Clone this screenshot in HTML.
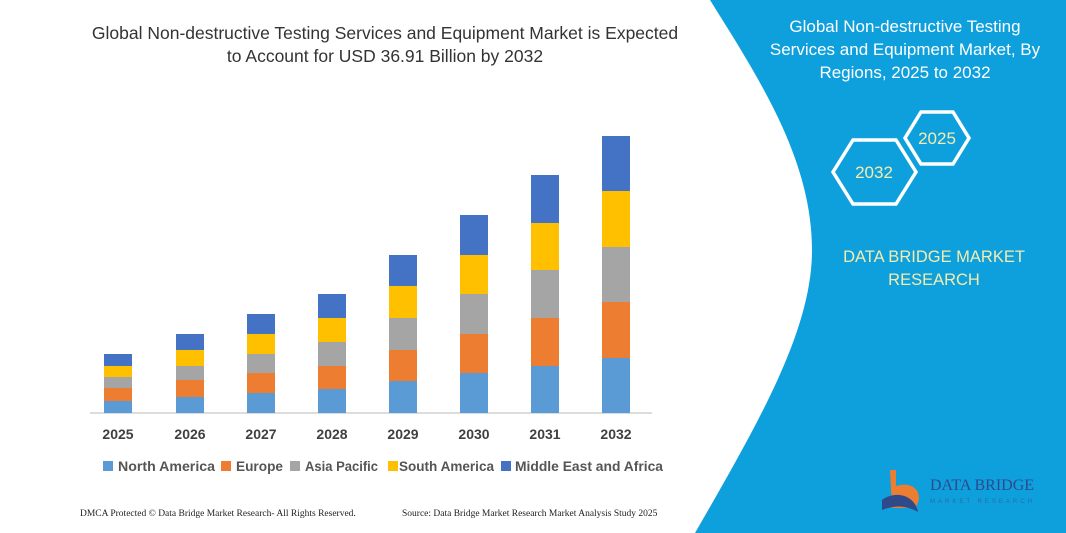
<!DOCTYPE html>
<html><head><meta charset="utf-8"><style>
html,body{margin:0;padding:0;}
body{width:1066px;height:533px;position:relative;overflow:hidden;background:#fff;font-family:"Liberation Sans",sans-serif;}
.t{position:absolute;white-space:nowrap;}
</style></head><body>
<svg width="1066" height="533" style="position:absolute;left:0;top:0">
<path d="M710,0 L1066,0 L1066,533 L695,533 C760,420 812,330 812,250 C812,160 760,80 710,0 Z" fill="#0ea0dc"/>
<line x1="90" y1="413" x2="652" y2="413" stroke="#d0d0d0" stroke-width="1.5"/>
<g>
<rect x="104" y="354" width="28" height="12" fill="#4472c4"/><rect x="104" y="366" width="28" height="11" fill="#ffc000"/><rect x="104" y="377" width="28" height="11" fill="#a5a5a5"/><rect x="104" y="388" width="28" height="13" fill="#ed7d31"/><rect x="104" y="401" width="28" height="12" fill="#5b9bd5"/>
<rect x="176" y="334" width="28" height="16" fill="#4472c4"/><rect x="176" y="350" width="28" height="16" fill="#ffc000"/><rect x="176" y="366" width="28" height="14" fill="#a5a5a5"/><rect x="176" y="380" width="28" height="17" fill="#ed7d31"/><rect x="176" y="397" width="28" height="16" fill="#5b9bd5"/>
<rect x="247" y="314" width="28" height="20" fill="#4472c4"/><rect x="247" y="334" width="28" height="20" fill="#ffc000"/><rect x="247" y="354" width="28" height="19" fill="#a5a5a5"/><rect x="247" y="373" width="28" height="20" fill="#ed7d31"/><rect x="247" y="393" width="28" height="20" fill="#5b9bd5"/>
<rect x="318" y="294" width="28" height="24" fill="#4472c4"/><rect x="318" y="318" width="28" height="24" fill="#ffc000"/><rect x="318" y="342" width="28" height="24" fill="#a5a5a5"/><rect x="318" y="366" width="28" height="23" fill="#ed7d31"/><rect x="318" y="389" width="28" height="24" fill="#5b9bd5"/>
<rect x="389" y="255" width="28" height="31" fill="#4472c4"/><rect x="389" y="286" width="28" height="32" fill="#ffc000"/><rect x="389" y="318" width="28" height="32" fill="#a5a5a5"/><rect x="389" y="350" width="28" height="31" fill="#ed7d31"/><rect x="389" y="381" width="28" height="32" fill="#5b9bd5"/>
<rect x="460" y="215" width="28" height="40" fill="#4472c4"/><rect x="460" y="255" width="28" height="39" fill="#ffc000"/><rect x="460" y="294" width="28" height="40" fill="#a5a5a5"/><rect x="460" y="334" width="28" height="39" fill="#ed7d31"/><rect x="460" y="373" width="28" height="40" fill="#5b9bd5"/>
<rect x="531" y="175" width="28" height="48" fill="#4472c4"/><rect x="531" y="223" width="28" height="47" fill="#ffc000"/><rect x="531" y="270" width="28" height="48" fill="#a5a5a5"/><rect x="531" y="318" width="28" height="48" fill="#ed7d31"/><rect x="531" y="366" width="28" height="47" fill="#5b9bd5"/>
<rect x="602" y="136" width="28" height="55" fill="#4472c4"/><rect x="602" y="191" width="28" height="56" fill="#ffc000"/><rect x="602" y="247" width="28" height="55" fill="#a5a5a5"/><rect x="602" y="302" width="28" height="56" fill="#ed7d31"/><rect x="602" y="358" width="28" height="55" fill="#5b9bd5"/>
</g>
<g font-family="Liberation Sans,sans-serif" font-size="14" font-weight="bold" fill="#404040" text-anchor="middle">
<text x="118" y="439">2025</text><text x="190" y="439">2026</text><text x="261" y="439">2027</text><text x="332" y="439">2028</text><text x="403" y="439">2029</text><text x="474" y="439">2030</text><text x="545" y="439">2031</text><text x="616" y="439">2032</text>
</g>
<g font-family="Liberation Sans,sans-serif" font-size="13.5" font-weight="bold" fill="#555">
<rect x="103" y="461" width="10" height="10" fill="#5b9bd5"/><text x="118" y="471" textLength="97" lengthAdjust="spacingAndGlyphs">North America</text>
<rect x="221" y="461" width="10" height="10" fill="#ed7d31"/><text x="236" y="471" textLength="47" lengthAdjust="spacingAndGlyphs">Europe</text>
<rect x="290" y="461" width="10" height="10" fill="#a5a5a5"/><text x="305" y="471" textLength="73" lengthAdjust="spacingAndGlyphs">Asia Pacific</text>
<rect x="388" y="461" width="10" height="10" fill="#ffc000"/><text x="399" y="471" textLength="95" lengthAdjust="spacingAndGlyphs">South America</text>
<rect x="501" y="461" width="10" height="10" fill="#4472c4"/><text x="515" y="471" textLength="148" lengthAdjust="spacingAndGlyphs">Middle East and Africa</text>
</g>
<polygon points="921,112 953,112 969,138 953,164 921,164 905,138" fill="none" stroke="#fff" stroke-width="3.5"/>
<polygon points="853,140 896,140 916,172 896,204 853,204 833,172" fill="none" stroke="#fff" stroke-width="3.5"/>
<g font-family="Liberation Sans,sans-serif" font-size="17" fill="#f3ecb0" text-anchor="middle">
<text x="937" y="144">2025</text><text x="874" y="178">2032</text>
</g>
<path d="M890,470 L896,470 L896,486 C915,480 925,495 915,508 L892,508 Z" fill="#ed7d31"/>
<path d="M882,500 C895,490 915,495 918,512 C905,505 895,505 882,510 Z" fill="#2e4a8a"/>
<text x="930" y="490" font-family="Liberation Serif,serif" font-size="16" fill="#2e4a8a">DATA BRIDGE</text>
<text x="930" y="503" font-family="Liberation Sans,sans-serif" font-size="6" letter-spacing="3" fill="#2e6aa0">MARKET RESEARCH</text>
</svg>
<div class="t" style="left:0;width:770px;text-align:center;top:22px;font-size:17.5px;line-height:23px;color:#333">Global Non-destructive Testing Services and Equipment Market is Expected<br>to Account for USD 36.91 Billion by 2032</div>
<div class="t" style="left:745px;width:320px;text-align:center;top:15px;font-size:17px;line-height:23px;color:#fff">Global Non-destructive Testing<br>Services and Equipment Market, By<br>Regions, 2025 to 2032</div>
<div class="t" style="left:800px;width:268px;text-align:center;top:246px;font-size:16.5px;line-height:23px;color:#f3ecb0">DATA BRIDGE MARKET<br>RESEARCH</div>
<div class="t" style="left:80px;top:509px;font-family:'Liberation Serif',serif;font-size:9.5px;color:#222">DMCA Protected © Data Bridge Market Research- All Rights Reserved.</div>
<div class="t" style="left:402px;top:509px;font-family:'Liberation Serif',serif;font-size:9.5px;color:#222">Source: Data Bridge Market Research Market Analysis Study 2025</div>
</body></html>
